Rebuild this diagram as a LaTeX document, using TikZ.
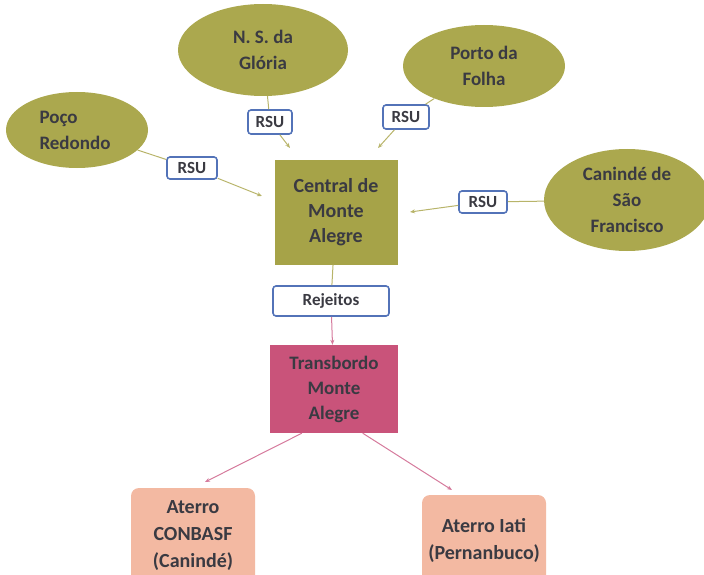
\documentclass[tikz,border=0pt]{standalone}
\usepackage{fontspec}
\setmainfont{Carlito}
\usetikzlibrary{shapes.geometric,arrows.meta}
\definecolor{olivefill}{HTML}{ABA84E}
\definecolor{boxfill}{HTML}{A6A348}
\definecolor{txt}{HTML}{3A3A42}
\definecolor{rsublue}{HTML}{5373B8}
\definecolor{transfill}{HTML}{C9537A}
\definecolor{aterrofill}{HTML}{F3B9A2}
\definecolor{oliveline}{HTML}{B8B46A}
\definecolor{pinkline}{HTML}{D57A9C}
\tikzset{
  city/.style={ellipse, fill=olivefill, draw=none, inner sep=0pt, align=center,
    font=\bfseries\fontsize{19}{26}\selectfont, text=txt},
  central/.style={rectangle, fill=boxfill, draw=none, align=center, inner sep=0pt,
    font=\bfseries\fontsize{20}{25}\selectfont, text=txt},
  tag/.style={rectangle, rounded corners=3pt, draw=rsublue, line width=1.6pt, fill=white,
    font=\bfseries\fontsize{17}{20}\selectfont, text=txt, inner sep=0pt},
  trans/.style={rectangle, fill=transfill, draw=none, align=center, inner sep=0pt,
    font=\bfseries\fontsize{19}{25}\selectfont, text=txt},
  aterro/.style={rectangle, rounded corners=8pt, fill=aterrofill, draw=none, align=center, inner sep=0pt,
    font=\bfseries\fontsize{20}{27}\selectfont, text=txt},
  oline/.style={draw=oliveline, line width=1pt},
  oarrow/.style={oline, -{Stealth[length=5pt,width=4pt]}},
  parrow/.style={draw=pinkline, line width=1pt, -{Stealth[length=5pt,width=4pt]}},
}
\begin{document}
\begin{tikzpicture}[x=1pt,y=-1pt]
\useasboundingbox (0,0) rectangle (704,575);
% nodes
\node[city, minimum width=170pt, minimum height=92pt] (gloria) at (263,50) {N. S. da\\Glória};
\node[city, minimum width=162pt, minimum height=82pt] (porto) at (484,66) {Porto da\\Folha};
\node[city, minimum width=142pt, minimum height=76pt, align=left] (poco) at (77,130) {\hspace*{-4pt}Poço\\\hspace*{-4pt}Redondo};
\node[city, minimum width=166pt, minimum height=102pt] (caninde) at (627,200) {Canindé de\\São\\Francisco};
\node[central, minimum width=123pt, minimum height=105pt] (central) at (336,212) {Central de\\Monte\\Alegre};
\node[trans, minimum width=128pt, minimum height=88pt] (trans) at (334,389) {Transbordo\\Monte\\Alegre};
\node[aterro, minimum width=124pt, minimum height=96pt] (conbasf) at (193,536) {Aterro\\CONBASF\\(Canindé)};
\node[aterro, minimum width=124pt, minimum height=90pt] (iati) at (484,540) {Aterro Iati\\(Pernanbuco)};
\node[tag, minimum width=44pt, minimum height=24pt] (r1) at (270,122) {RSU};
\node[tag, minimum width=46pt, minimum height=24pt] (r2) at (406,117) {RSU};
\node[tag, minimum width=50pt, minimum height=22pt] (r3) at (192,168) {RSU};
\node[tag, minimum width=48pt, minimum height=22pt] (r4) at (483,202) {RSU};
\node[tag, minimum width=116pt, minimum height=30pt] (rej) at (331,301) {Rejeitos};
% free ends of connectors
\coordinate (c1) at (290,148);
\coordinate (c2) at (378,148);
\coordinate (c3) at (262,196);
\coordinate (c4) at (410,212);
\coordinate (t1) at (205,482);
\coordinate (t2) at (452,490);
% connectors
\draw[oline] (gloria) -- (r1);
\draw[oarrow] (r1) -- (c1);
\draw[oline] (porto) -- (r2);
\draw[oarrow] (r2) -- (c2);
\draw[oline] (poco) -- (r3);
\draw[oarrow] (r3) -- (c3);
\draw[oline] (caninde) -- (r4);
\draw[oarrow] (r4) -- (c4);
\draw[oline] (central) -- (rej);
\draw[parrow] (rej) -- (trans);
\draw[parrow] (trans.-126) -- (t1);
\draw[parrow] (trans.-57) -- (t2);
\end{tikzpicture}
\end{document}
